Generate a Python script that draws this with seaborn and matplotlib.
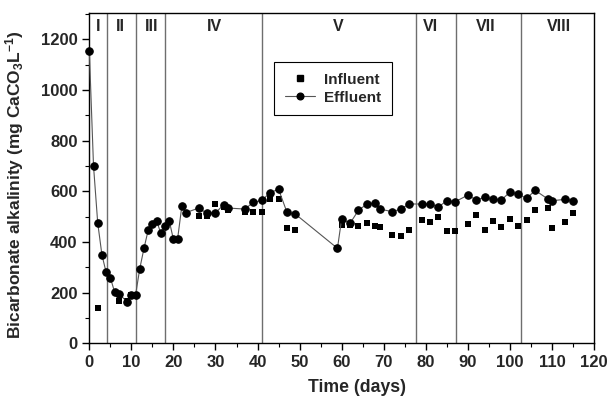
import matplotlib
matplotlib.use("Agg")
import matplotlib.pyplot as plt
import seaborn as sns
import pandas as pd
from matplotlib.ticker import MultipleLocator
from matplotlib.lines import Line2D

# ---- data ----
days_eff = [0, 1, 2, 3, 4, 5, 6, 7, 9, 10, 11, 12, 13, 14, 15, 16, 17, 18, 19, 20, 21, 22, 23,
            26, 28, 30, 32, 33, 37, 39, 41, 43, 45, 47, 49, 59, 60, 62, 64, 66, 68, 69,
            72, 74, 76, 79, 81, 83, 85, 87, 90, 92, 94, 96, 98, 100, 102, 104, 106,
            109, 110, 113, 115]
effluent = [1155, 700, 475, 349, 280, 259, 203, 195, 164, 191, 191, 295, 375, 447, 471, 484, 434,
            464, 484, 410, 413, 542, 516, 534, 513, 516, 547, 534, 530, 557, 564, 595, 608, 517,
            510, 375, 491, 474, 525, 550, 554, 530, 520, 529, 550, 550, 550, 538, 563, 559, 585,
            566, 576, 570, 566, 597, 589, 572, 604, 570, 563, 568, 563]

days_inf = [2, 7, 9, 10, 11, 26, 28, 30, 32, 33, 37, 39, 41, 43, 45, 47, 49, 59, 60, 62, 64, 66,
            68, 69, 72, 74, 76, 79, 81, 83, 85, 87, 90, 92, 94, 96, 98, 100, 102, 104, 106,
            109, 110, 113, 115]
influent = [138, 168, 166, 191, 191, 503, 503, 550, 540, 525, 520, 520, 520, 570, 570, 455, 449,
            375, 468, 467, 463, 476, 463, 459, 427, 422, 446, 487, 479, 500, 443, 443, 470, 506,
            449, 481, 460, 489, 464, 487, 526, 534, 454, 479, 514]

phase_bounds = [4.3, 11, 18, 41, 77.6, 87.2, 102.7]
phase_names = ["I", "II", "III", "IV", "V", "VI", "VII", "VIII"]
phase_label_x = [2.1, 7.5, 14.7, 29.8, 59.2, 81.2, 94.2, 111.6]

x_ticks = list(range(0, 121, 10))
y_ticks = list(range(0, 1201, 200))

# ---- style ----
sns.set_style("ticks")
plt.rcParams["font.family"] = ["Liberation Sans", "DejaVu Sans"]
plt.rcParams["font.weight"] = "bold"
plt.rcParams["mathtext.fontset"] = "custom"
plt.rcParams["mathtext.rm"] = "Liberation Sans:bold"
plt.rcParams["mathtext.bf"] = "Liberation Sans:bold"
plt.rcParams["mathtext.it"] = "Liberation Sans:bold"
plt.rcParams["mathtext.default"] = "bf"

fig = plt.figure(figsize=(6.13, 4.0), dpi=100)
ax = fig.add_axes([0.1457, 0.1418, 0.969 - 0.1457, 0.968 - 0.1418])

df_eff = pd.DataFrame({"day": days_eff, "val": effluent})
df_inf = pd.DataFrame({"day": days_inf, "val": influent})

for xb in phase_bounds:
    ax.axvline(xb, color="#6e6e6e", lw=1.0, zorder=1)

sns.lineplot(data=df_eff, x="day", y="val", ax=ax, sort=False, color="#555555", lw=0.8,
             marker="o", markersize=5.4, markerfacecolor="black", markeredgecolor="black",
             zorder=3, clip_on=False, legend=False)
sns.scatterplot(data=df_inf, x="day", y="val", ax=ax, marker="s", s=24, color="black",
                edgecolor="black", linewidth=0, zorder=2, legend=False)

for name, xp in zip(phase_names, phase_label_x):
    ax.text(xp, 1250, name, ha="center", va="center", fontsize=11.5, fontweight="bold")

ax.set_xlim(0, 120)
ax.set_ylim(0, 1305)
ax.set_xticks(x_ticks)
ax.set_yticks(y_ticks)
ax.xaxis.set_minor_locator(MultipleLocator(5))
ax.yaxis.set_minor_locator(MultipleLocator(100))
ax.tick_params(axis="both", which="major", length=5, width=1, direction="out", labelsize=12,
               color="black")
ax.tick_params(axis="both", which="minor", length=3, width=0.8, direction="out", color="black")
for lab in ax.get_xticklabels() + ax.get_yticklabels():
    lab.set_fontweight("bold")

for sp in ax.spines.values():
    sp.set_visible(True)
    sp.set_color("black")
    sp.set_linewidth(1.0)

ax.set_xlabel("Time (days)", fontsize=12.7, fontweight="bold")
ax.set_ylabel(r"Bicarbonate alkalinity (mg CaCO$_3$L$^{-1}$)", fontsize=12.5,
              fontweight="bold")
ax.xaxis.set_label_coords(0.53, -0.108)
ax.yaxis.set_label_coords(-0.125, 0.479)

handles = [
    Line2D([], [], marker="s", color="black", linestyle="none", markersize=4.8),
    Line2D([], [], marker="o", color="#555555", lw=0.8, markerfacecolor="black",
           markeredgecolor="black", markersize=4.8),
]
leg = ax.legend(handles, ["Influent", "Effluent"], loc="upper left",
                bbox_to_anchor=(0.366, 0.851), borderaxespad=0, frameon=True,
                fancybox=False, edgecolor="black", framealpha=1,
                prop={"weight": "bold", "size": 11}, handlelength=2.0,
                borderpad=0.7, labelspacing=0.25, handletextpad=0.6)
leg.get_frame().set_linewidth(0.8)

fig.savefig("out.png", dpi=100)
